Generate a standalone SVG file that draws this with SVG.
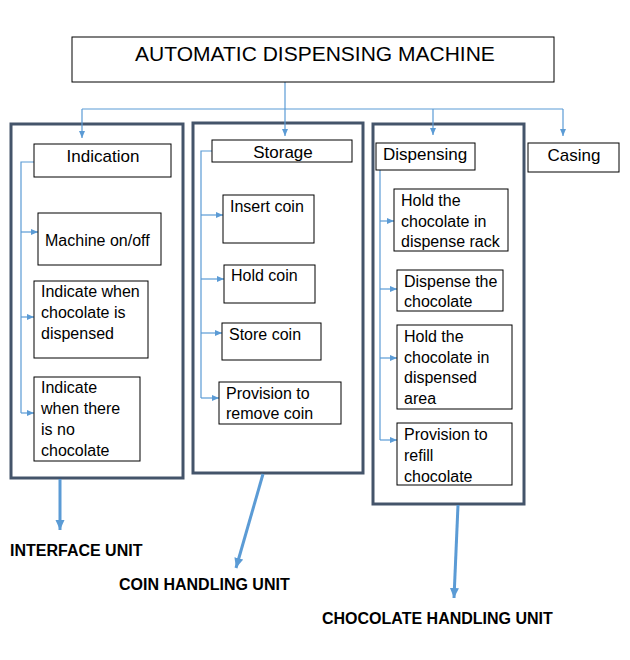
<svg xmlns="http://www.w3.org/2000/svg" width="630" height="660" viewBox="0 0 630 660">
<defs>
<marker id="a" markerUnits="userSpaceOnUse" markerWidth="7" markerHeight="7" refX="7" refY="3.5" orient="auto"><path d="M0,0.5 L7,3.5 L0,6.5 z" fill="#5B9BD5"/></marker>
<marker id="b" markerUnits="userSpaceOnUse" markerWidth="10" markerHeight="10" refX="10" refY="5" orient="auto"><path d="M0,0.5 L10,5 L0,9.5 z" fill="#5B9BD5"/></marker>
</defs>
<style>
.t{font-family:"Liberation Sans",Arial,sans-serif;fill:#000}
.b{font-size:16px}
.h{font-size:17px}
.u{font-size:16px;font-weight:bold}
.box{fill:#fff;stroke:#000;stroke-width:1}
.outer{fill:none;stroke:#44546A;stroke-width:3}
.c{fill:none;stroke:#5B9BD5;stroke-width:1.2}
.k{fill:none;stroke:#5B9BD5;stroke-width:3}
</style>
<rect width="630" height="660" fill="#fff"/>
<g id="outer-boxes">
<rect class="outer" x="11" y="124" width="172" height="354"/>
<rect class="outer" x="193" y="123" width="170" height="350"/>
<rect class="outer" x="373" y="124" width="151" height="380"/>
</g>
<g id="connectors">
<path class="c" d="M285,82 V136" marker-end="url(#a)"/>
<path class="c" d="M82,109 H563"/>
<path class="c" d="M82,109 V138" marker-end="url(#a)"/>
<path class="c" d="M433,109 V135" marker-end="url(#a)"/>
<path class="c" d="M563,109 V136" marker-end="url(#a)"/>
<path class="c" d="M34,162 H21 V413"/>
<path class="c" d="M21,232 H38" marker-end="url(#a)"/>
<path class="c" d="M21,317 H34" marker-end="url(#a)"/>
<path class="c" d="M21,413 H34" marker-end="url(#a)"/>
<path class="c" d="M212,151 H201 V398"/>
<path class="c" d="M201,215 H223" marker-end="url(#a)"/>
<path class="c" d="M201,279 H224" marker-end="url(#a)"/>
<path class="c" d="M201,333 H222" marker-end="url(#a)"/>
<path class="c" d="M201,398 H219" marker-end="url(#a)"/>
<path class="c" d="M380,170 V440"/>
<path class="c" d="M380,221 H394" marker-end="url(#a)"/>
<path class="c" d="M380,289 H397" marker-end="url(#a)"/>
<path class="c" d="M380,358 H397" marker-end="url(#a)"/>
<path class="c" d="M380,440 H397" marker-end="url(#a)"/>
<path class="k" d="M60,479 V530" marker-end="url(#b)"/>
<path class="k" d="M263,474 L236,568" marker-end="url(#b)"/>
<path class="k" d="M458,505 L454,598" marker-end="url(#b)"/>
</g>
<g id="title"><rect class="box" x="72" y="37" width="482" height="45"/><text class="t" x="315" y="61" font-size="21" text-anchor="middle">AUTOMATIC DISPENSING MACHINE</text></g>
<g id="indication"><rect class="box" x="34" y="144" width="137" height="33"/><text class="t h" x="103" y="162" text-anchor="middle">Indication</text></g>
<g id="storage"><rect class="box" x="212" y="140" width="140" height="22"/><text class="t h" x="283" y="158" text-anchor="middle">Storage</text></g>
<g id="dispensing"><rect class="box" x="376" y="143" width="99" height="27"/><text class="t h" x="383" y="160">Dispensing</text></g>
<g id="casing"><rect class="box" x="528" y="143" width="91" height="29"/><text class="t h" x="574" y="161" text-anchor="middle">Casing</text></g>
<g id="machine-on-off"><rect class="box" x="38" y="213" width="123" height="52"/><text class="t b" x="45" y="246">Machine on/off</text></g>
<g id="indicate-dispensed"><rect class="box" x="34" y="281" width="114" height="77"/><text class="t b" x="41"><tspan x="41" y="297">Indicate when</tspan><tspan x="41" y="318">chocolate is</tspan><tspan x="41" y="339">dispensed</tspan></text></g>
<g id="indicate-none"><rect class="box" x="34" y="377" width="106" height="84"/><text class="t b"><tspan x="41" y="393">Indicate</tspan><tspan x="41" y="414">when there</tspan><tspan x="41" y="435">is no</tspan><tspan x="41" y="456">chocolate</tspan></text></g>
<g id="insert-coin"><rect class="box" x="223" y="195" width="91" height="48"/><text class="t b" x="230" y="212">Insert coin</text></g>
<g id="hold-coin"><rect class="box" x="224" y="265" width="91" height="38"/><text class="t b" x="231" y="281">Hold coin</text></g>
<g id="store-coin"><rect class="box" x="222" y="323" width="99" height="37"/><text class="t b" x="229" y="340">Store coin</text></g>
<g id="remove-coin"><rect class="box" x="219" y="382" width="122" height="42"/><text class="t b"><tspan x="226" y="399">Provision to</tspan><tspan x="226" y="419">remove coin</tspan></text></g>
<g id="hold-rack"><rect class="box" x="394" y="189" width="114" height="62"/><text class="t b"><tspan x="401" y="206">Hold the</tspan><tspan x="401" y="227">chocolate in</tspan><tspan x="401" y="247">dispense rack</tspan></text></g>
<g id="dispense-chocolate"><rect class="box" x="397" y="270" width="106" height="41"/><text class="t b"><tspan x="404" y="287">Dispense the</tspan><tspan x="404" y="307">chocolate</tspan></text></g>
<g id="hold-area"><rect class="box" x="397" y="325" width="115" height="84"/><text class="t b"><tspan x="404" y="342">Hold the</tspan><tspan x="404" y="363">chocolate in</tspan><tspan x="404" y="383">dispensed</tspan><tspan x="404" y="404">area</tspan></text></g>
<g id="refill"><rect class="box" x="397" y="423" width="115" height="62"/><text class="t b"><tspan x="404" y="440">Provision to</tspan><tspan x="404" y="461">refill</tspan><tspan x="404" y="482">chocolate</tspan></text></g>
<g id="labels">
<text class="t u" x="10" y="556">INTERFACE UNIT</text>
<text class="t u" x="119" y="590">COIN HANDLING UNIT</text>
<text class="t u" x="322" y="624">CHOCOLATE HANDLING UNIT</text>
</g>
</svg>
